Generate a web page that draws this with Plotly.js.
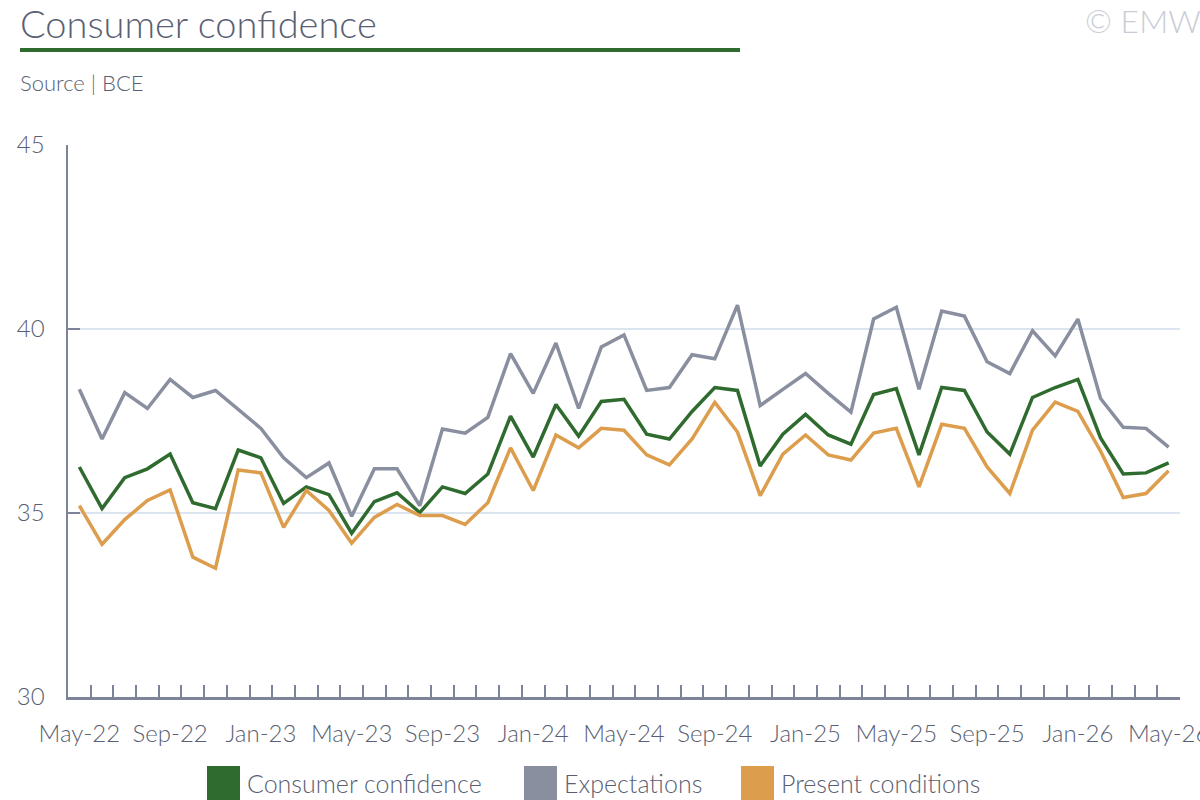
<!DOCTYPE html>
<html>
<head>
<meta charset="utf-8">
<script src="https://cdn.plot.ly/plotly-3.0.1.min.js"></script>
<style>html,body{margin:0;padding:0;background:#fff;}#chart{width:1200px;height:800px;}</style>
</head>
<body>
<div id="chart"></div>
<script>
const months = ["May-22","Jun-22","Jul-22","Aug-22","Sep-22","Oct-22","Nov-22","Dec-22",
  "Jan-23","Feb-23","Mar-23","Apr-23","May-23","Jun-23","Jul-23","Aug-23","Sep-23","Oct-23","Nov-23","Dec-23",
  "Jan-24","Feb-24","Mar-24","Apr-24","May-24","Jun-24","Jul-24","Aug-24","Sep-24","Oct-24","Nov-24","Dec-24",
  "Jan-25","Feb-25","Mar-25","Apr-25","May-25","Jun-25","Jul-25","Aug-25","Sep-25","Oct-25","Nov-25","Dec-25",
  "Jan-26","Feb-26","Mar-26","Apr-26","May-26"];
const tickLabels = ["May-22","Sep-22","Jan-23","May-23","Sep-23","Jan-24","May-24","Sep-24","Jan-25","May-25","Sep-25","Jan-26","May-26"];

const consumerConfidence = [36.25,35.12,35.96,36.20,36.60,35.28,35.12,36.71,36.50,35.26,35.71,35.50,34.45,
  35.31,35.55,35.01,35.71,35.53,36.06,37.63,36.52,37.95,37.09,38.03,38.09,37.14,37.01,37.76,38.41,38.33,
  36.28,37.14,37.68,37.12,36.87,38.22,38.38,36.58,38.41,38.33,37.20,36.60,38.14,38.41,38.63,37.04,36.06,36.09,36.36];
const expectations = [38.36,37.01,38.27,37.84,38.63,38.14,38.33,37.82,37.30,36.50,35.96,36.36,34.91,
  36.20,36.20,35.20,37.28,37.17,37.60,39.33,38.25,39.62,37.84,39.51,39.84,38.33,38.41,39.30,39.19,40.65,
  37.92,38.36,38.79,38.25,37.74,40.27,40.59,38.36,40.49,40.35,39.11,38.79,39.95,39.27,40.27,38.11,37.33,37.30,36.79];
const presentConditions = [35.20,34.15,34.82,35.34,35.63,33.80,33.50,36.17,36.09,34.61,35.61,35.07,34.18,
  34.88,35.23,34.93,34.93,34.69,35.28,36.77,35.61,37.12,36.77,37.30,37.25,36.58,36.31,37.01,38.01,37.20,
  35.47,36.60,37.12,36.58,36.44,37.17,37.30,35.71,37.41,37.30,36.25,35.53,37.25,38.01,37.76,36.68,35.42,35.53,36.15];

const seriesNames = ["Consumer confidence","Expectations","Present conditions"];
const seriesColors = ["#2f6b2f","#8a8fa0","#dc9d4d"];
const seriesData = [consumerConfidence, expectations, presentConditions];

const W = 1200, H = 800, mL = 68, mR = 20, mT = 145, mB = 103;
const pw = W - mL - mR, ph = H - mT - mB;
const px = x => (x - mL) / pw;
const py = y => (H - mB - y) / ph;

const FONT = "Lato, 'Open Sans', sans-serif";
const WEIGHT = 300;
const textColor = "#5a5f73";
const axisColor = "#7d8398";

const traces = seriesData.map((d, i) => ({
  type: "scatter", mode: "lines", name: seriesNames[i],
  x: months, y: d,
  line: {color: seriesColors[i], width: 3.5},
  showlegend: false, hoverinfo: "x+y+name"
}));

const shapes = [
  {type: "line", xref: "paper", yref: "paper", x0: px(20), x1: px(740), y0: py(50), y1: py(50),
   line: {color: "#2f6b2f", width: 4}}
];
const annotations = [
  {xref: "paper", yref: "paper", x: px(18), y: py(23), xanchor: "left", yanchor: "middle",
   text: "Consumer confidence", showarrow: false, font: {family: FONT, weight: WEIGHT, size: 38, color: textColor}},
  {xref: "paper", yref: "paper", x: px(18), y: py(82), xanchor: "left", yanchor: "middle",
   text: "Source | BCE", showarrow: false, font: {family: FONT, weight: WEIGHT, size: 22, color: textColor}},
  {xref: "paper", yref: "paper", x: px(1083), y: py(21), xanchor: "left", yanchor: "middle",
   text: "© EMW", showarrow: false, font: {family: FONT, weight: WEIGHT, size: 32, color: "#c9ccd4"}}
];
const legX = [207, 524, 741];
seriesNames.forEach((n, i) => {
  shapes.push({type: "rect", xref: "paper", yref: "paper", x0: px(legX[i]), x1: px(legX[i] + 33),
    y0: py(800), y1: py(766), fillcolor: seriesColors[i], line: {width: 0}});
  annotations.push({xref: "paper", yref: "paper", x: px(legX[i] + 38), y: py(783), xanchor: "left", yanchor: "middle",
    text: n, showarrow: false, font: {family: FONT, weight: WEIGHT, size: 25, color: textColor}});
});

const layout = {
  width: W, height: H,
  margin: {l: mL, r: mR, t: mT, b: mB, pad: 0},
  paper_bgcolor: "#fff", plot_bgcolor: "#fff",
  font: {family: FONT, weight: WEIGHT, color: textColor},
  showlegend: false,
  xaxis: {
    type: "category", range: [-0.5, months.length - 0.5],
    tickmode: "array", tickvals: months,
    ticktext: months.map(m => tickLabels.includes(m) ? m : ""),
    tickson: "boundaries", ticks: "inside", ticklen: 12, tickwidth: 2, tickcolor: axisColor,
    showline: true, linecolor: axisColor, linewidth: 2.5,
    showgrid: false, zeroline: false,
    tickfont: {family: FONT, weight: WEIGHT, size: 24, color: textColor},
    ticklabelstandoff: 14, tickangle: 0
  },
  yaxis: {
    range: [30, 45], tickvals: [30, 35, 40, 45],
    ticks: "inside", ticklen: 12, tickwidth: 2, tickcolor: axisColor,
    showline: true, linecolor: axisColor, linewidth: 2.5,
    showgrid: true, gridcolor: "#dbe5f0", gridwidth: 1.5, zeroline: false,
    tickfont: {family: FONT, weight: WEIGHT, size: 24, color: textColor},
    ticklabelstandoff: 16
  },
  shapes: shapes,
  annotations: annotations
};

Plotly.newPlot("chart", traces, layout, {displayModeBar: false, staticPlot: true});
</script>
</body>
</html>
